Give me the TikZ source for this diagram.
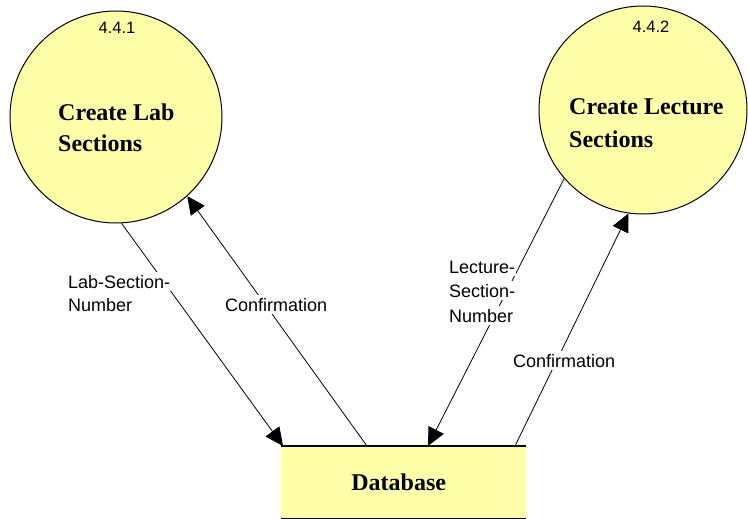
\documentclass[tikz,border=0pt]{standalone}
\usepackage{fontspec}
\setmainfont{Liberation Serif}
\newfontfamily\labfont{Liberation Sans}
\usetikzlibrary{arrows.meta,calc}
\definecolor{bub}{RGB}{255,255,170}
\begin{document}
\begin{tikzpicture}[x=1pt,y=-1pt,
  proc/.style={circle,draw=black,line width=1pt,fill=bub,inner sep=0pt},
  title/.style={anchor=base west,font=\fontsize{24}{31}\selectfont\bfseries,inner sep=0pt},
  num/.style={anchor=base,font=\labfont\fontsize{16.5}{18}\selectfont,inner sep=0pt},
  lbl/.style={anchor=base west,font=\labfont\fontsize{18}{20}\selectfont,fill=white,inner xsep=1pt,inner ysep=3pt},
  flow/.style={line width=0.8pt,-{Triangle[length=18pt,width=17pt]}}]
\useasboundingbox (0,0) rectangle (748,519);
% processes
\node[proc,minimum size=212pt] (c1) at (116,117) {};
\node[proc,minimum size=208pt] (c2) at (643,110) {};
\node[num] (n1) at (117,34) {4.4.1};
\node[num] (n2) at (651,33) {4.4.2};
\node[title] (t1a) at (58,121) {Create Lab};
\node[title] (t1b) at (58,152) {Sections};
\node[title] (t2a) at (569,115) {Create Lecture};
\node[title] (t2b) at (569,147) {Sections};
% data store
\node[fill=bub,minimum width=245pt,minimum height=72pt,inner sep=0pt,anchor=north west,
      font=\fontsize{24}{28}\selectfont\bfseries] (db) at (281,446) {\hspace*{-10pt}Database};
\draw[line width=1.2pt] (db.north west) -- (db.north east) (db.south west) -- (db.south east);
% flows
\draw[flow] (c1.-87) -- ($(db.north west)+(2,0)$);
\draw[flow] ($(db.north west)+(86,0)$) -- (c1.-48);
\draw[flow] (c2.221) -- ($(db.north west)+(147,0)$);
\draw[flow] ($(db.north west)+(234,0)$) -- (c2.-98);
% labels
\node[lbl] (l1a) at (67,288) {Lab-Section-};
\node[lbl] (l1b) at (67,311) {Number};
\node[lbl] (cf1) at (224,311) {Confirmation};
\node[lbl] (l2a) at (448,273) {Lecture-};
\node[lbl] (l2b) at (448,297) {Section-};
\node[lbl] (l2c) at (448,322) {Number};
\node[lbl] (cf2) at (512,367) {Confirmation};
\end{tikzpicture}
\end{document}
